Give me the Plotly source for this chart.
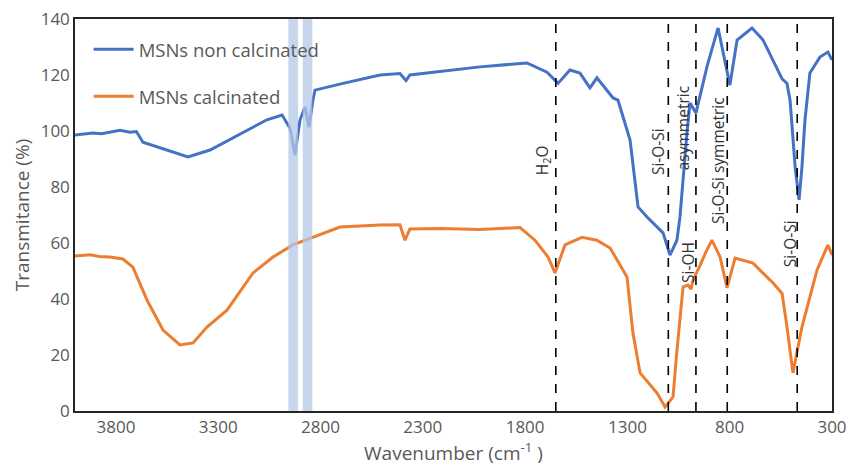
import plotly.graph_objects as go

# ---------------- data ----------------
wn_non = [4000, 3912, 3870, 3829, 3780, 3731, 3700, 3668, 3585, 3448, 3340, 3179, 3062, 2988, 2949,
          2925, 2900, 2876, 2856, 2837, 2827, 2690, 2509, 2412, 2382, 2363, 2200, 2021, 1791, 1693,
          1639, 1581, 1532, 1483, 1449, 1370, 1346, 1302, 1287, 1248, 1204, 1126, 1092, 1058, 1043,
          1009, 994, 965, 911, 857, 799, 764, 735, 691, 637, 588, 544, 520, 505, 480, 461, 447, 432,
          408, 359, 320, 300]
tr_non = [98.6, 99.3, 99.0, 99.6, 100.3, 99.6, 99.8, 96.0, 93.9, 90.7, 93.2, 99.3, 104.0, 105.7, 101.0,
          91.4, 104.0, 108.6, 101.4, 111.0, 114.6, 117.0, 120.0, 120.5, 118.0, 120.0, 121.5, 122.9, 124.3, 121.0,
          117.0, 121.8, 120.7, 115.4, 119.0, 111.8, 111.0, 100.4, 96.8, 72.9, 69.3, 63.6, 55.7, 61.0, 69.3,
          99.3, 110.0, 106.4, 123.0, 136.8, 116.4, 132.5, 134.3, 136.8, 132.5, 125.4, 118.6, 117.0, 111.0, 87.0,
          75.4, 87.0, 104.0, 120.7, 126.4, 128.2, 125.4]

wn_cal = [4000, 3927, 3880, 3829, 3766, 3717, 3648, 3570, 3487, 3423, 3355, 3257, 3130, 3032, 2935,
          2822, 2705, 2509, 2412, 2387, 2363, 2216, 2021, 1825, 1752, 1688, 1654, 1605, 1522, 1449,
          1385, 1370, 1302, 1273, 1238, 1155, 1116, 1077, 1060, 1028, 1004, 989, 979, 945, 915, 887,
          847, 813, 774, 686, 588, 544, 520, 491, 447, 373, 320, 300]
tr_cal = [55.4, 55.8, 55.2, 55.0, 54.3, 51.4, 39.6, 28.9, 23.6, 24.3, 30.0, 36.0, 49.3, 55.0, 59.3,
          62.5, 65.7, 66.4, 66.5, 61.0, 65.0, 65.2, 64.8, 65.5, 61.0, 55.0, 49.3, 59.3, 62.0, 61.0,
          58.2, 56.4, 47.9, 27.9, 13.6, 6.4, 1.4, 5.0, 20.0, 44.3, 45.0, 43.5, 46.8, 52.0, 57.0, 61.0,
          55.0, 44.0, 54.6, 52.8, 45.7, 42.0, 30.0, 13.6, 30.0, 50.4, 59.3, 55.7]

series_names = ["MSNs non calcinated", "MSNs calcinated"]
series_colors = ["#4472C4", "#ED7D31"]

band_ranges = [(2910, 2957), (2840, 2887)]
marker_lines = [1650, 1100, 965, 812, 470]

label_texts = ["H<sub>2</sub>O", "Si-O-Si", "asymmetric", "Si-O-Si symmetric", "Si-OH", "Si-O-Si"]
label_x = [1717, 1150, 1028, 857, 1004, 505]
label_y = [89.6, 92.5, 101.0, 89.3, 53.2, 59.6]

x_ticks = [3800, 3300, 2800, 2300, 1800, 1300, 800, 300]
y_ticks = [0, 20, 40, 60, 80, 100, 120, 140]

# ---------------- figure ----------------
FONT = "Open Sans"
GRAY = "#595959"

fig = go.Figure()
for i, (wx, ty) in enumerate([(wn_non, tr_non), (wn_cal, tr_cal)]):
    fig.add_trace(go.Scatter(
        x=wx, y=ty, mode="lines", name=series_names[i],
        line=dict(color=series_colors[i], width=3),
        legendgroup=str(i),
    ))

shapes = []
for x0, x1 in band_ranges:
    shapes.append(dict(type="rect", xref="x", yref="y", x0=x0, x1=x1, y0=0, y1=140,
                       fillcolor="#B4C7E7", opacity=0.75, line=dict(width=0), layer="above"))
for xv in marker_lines:
    shapes.append(dict(type="line", xref="x", yref="y", x0=xv, x1=xv, y0=0, y1=140,
                       line=dict(color="black", width=1.6, dash="dash"), layer="above"))

annotations = []
for t, ax, ay in zip(label_texts, label_x, label_y):
    annotations.append(dict(text=t, x=ax, y=ay, xref="x", yref="y", showarrow=False,
                            textangle=-90, xanchor="center", yanchor="middle",
                            font=dict(family=FONT, size=15.5, color="#333333")))

fig.update_layout(
    width=850, height=468,
    margin=dict(l=75, r=18, t=19, b=57, autoexpand=False),
    paper_bgcolor="white", plot_bgcolor="white",
    font=dict(family=FONT, color=GRAY),
    shapes=shapes, annotations=annotations,
    showlegend=True,
    legend=dict(x=0.018, y=0.97, xanchor="left", yanchor="top",
                bgcolor="rgba(0,0,0,0)", font=dict(size=18.5, color=GRAY, family=FONT),
                tracegroupgap=20, traceorder="grouped", itemwidth=40),
    xaxis=dict(range=[4000, 300], tickvals=x_ticks, ticktext=[str(v) for v in x_ticks],
               showgrid=False, zeroline=False, showline=True, linecolor="#262626", linewidth=1.5,
               mirror=True, ticks="", automargin=False,
               tickfont=dict(size=17, color=GRAY, family=FONT),
               title=dict(text="Wavenumber (cm<sup>-1</sup> )", font=dict(size=19, color=GRAY, family=FONT),
                          standoff=4)),
    yaxis=dict(range=[0, 140], tickvals=y_ticks, showgrid=False, zeroline=False, showline=True,
               linecolor="#262626", linewidth=1.5, mirror=True, ticks="", automargin=False,
               tickfont=dict(size=17, color=GRAY, family=FONT),
               title=dict(text="Transmitance (%)", font=dict(size=19, color=GRAY, family=FONT),
                          standoff=6)),
)

fig.write_html("out.html")
